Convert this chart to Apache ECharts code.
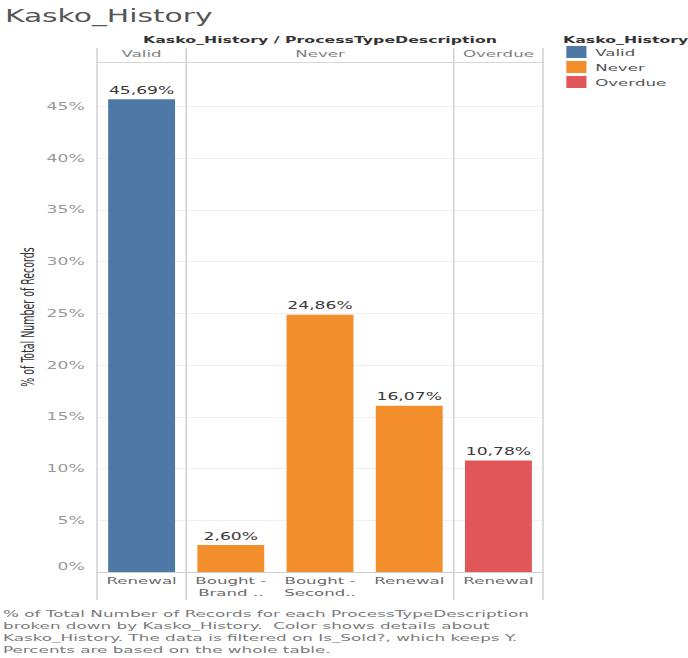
<!DOCTYPE html>
<html>
<head>
<meta charset="utf-8">
<title>Kasko_History</title>
<script src="https://cdn.jsdelivr.net/npm/echarts@6/dist/echarts.min.js"></script>
<style>
  html, body { margin: 0; padding: 0; background: #fff; overflow: hidden; }
  /* The dashboard is laid out on a narrow canvas and widened to the page width */
  #chart { width: 393px; height: 658px; transform-origin: 0 0; }
</style>
</head>
<body>
<div id="chart"></div>
<script>
// Process type per column and the Kasko_History group each column belongs to
const categories = ['Renewal', 'Bought -\nBrand ..', 'Bought -\nSecond..', 'Renewal', 'Renewal'];
const columnGroups = ['Valid', 'Never', 'Never', 'Never', 'Overdue'];
// % of total number of records per column
const percentValues = [45.69, 2.60, 24.86, 16.07, 10.78];
// Kasko_History members (legend order) and their colours
const kaskoHistory = ['Valid', 'Never', 'Overdue'];
const groupColors = ['#4e79a7', '#f28e2b', '#e15759'];
const yMax = 49.3;
const yInterval = 5;

const footerLines = [
  '% of Total Number of Records for each ProcessTypeDescription',
  'broken down by Kasko_History.  Color shows details about',
  'Kasko_History. The data is filtered on Is_Sold?, which keeps Y.',
  'Percents are based on the whole table.'
];

const FONT = 'DejaVu Sans';
const NARROW = '"Liberation Sans Narrow", "DejaVu Sans Condensed", "Liberation Sans", sans-serif';
const PAGE_W = 688;
const el = document.getElementById('chart');
const stretch = PAGE_W / el.offsetWidth;
el.style.transform = 'scaleX(' + stretch + ')';

const fmtPct = v => v.toFixed(2).replace('.', ',') + '%';

const chart = echarts.init(el, null, { renderer: 'svg' });

const series = kaskoHistory.map((name, k) => ({
  name: name,
  type: 'bar',
  barWidth: '75%',
  barGap: '-100%',
  itemStyle: { color: groupColors[k] },
  data: percentValues.map((v, i) => columnGroups[i] === name ? v : '-'),
  label: {
    show: true,
    position: 'top',
    distance: 4,
    color: '#3a3a3a',
    fontFamily: FONT,
    fontSize: 9.8,
    formatter: p => fmtPct(p.value)
  }
}));

chart.setOption({
  animation: false,
  textStyle: { fontFamily: FONT },
  title: {
    text: 'Kasko_History',
    left: 2.8,
    top: 8,
    padding: 0,
    textStyle: { fontFamily: FONT, fontSize: 17, fontWeight: 'normal', color: '#555' }
  },
  legend: {
    data: kaskoHistory,
    orient: 'vertical',
    left: 323.5,
    top: 46,
    padding: 0,
    itemWidth: 11.5,
    itemHeight: 12,
    itemGap: 3,
    icon: 'rect',
    textStyle: { fontFamily: FONT, fontSize: 9.5, color: '#555' }
  },
  grid: { left: 55.4, right: 82.8, top: 62, bottom: 86, outerBoundsMode: 'none', containLabel: false },
  xAxis: {
    type: 'category',
    data: categories,
    axisLine: { show: true, lineStyle: { color: '#cfcfcf' } },
    axisTick: { show: false },
    axisLabel: { interval: 0, color: '#6a6a6a', fontFamily: FONT, fontSize: 9.5, margin: 2, lineHeight: 12.5 },
    splitLine: { show: false }
  },
  yAxis: {
    type: 'value',
    min: 0,
    max: yMax,
    interval: yInterval,
    name: '% of Total Number of Records',
    nameLocation: 'middle',
    nameRotate: 90,
    nameGap: 34,
    nameMoveOverlap: false,
    nameTextStyle: { fontFamily: NARROW, fontSize: 10.5, color: '#333' },
    axisLine: { show: false },
    axisTick: { show: false },
    axisLabel: {
      color: '#999',
      fontFamily: FONT,
      fontSize: 9.8,
      margin: 7,
      formatter: v => {
        if (Math.abs(v / yInterval - Math.round(v / yInterval)) > 1e-6) return '';
        return v === 0 ? '{z|0%}' : v + '%';
      },
      rich: { z: { color: '#999', fontFamily: FONT, fontSize: 9.8, padding: [0, 0, 12, 0] } }
    },
    splitLine: { show: true, lineStyle: { color: '#efefef', width: 1 } }
  },
  series: series
});

// Pane frame, column headers and footer, positioned from the axis scales
const centerX = i => chart.convertToPixel({ xAxisIndex: 0 }, i);
const halfBand = (centerX(1) - centerX(0)) / 2;
const leftOf = i => centerX(i) - halfBand;
const rightOf = i => centerX(i) + halfBand;
const topY = chart.convertToPixel({ yAxisIndex: 0 }, yMax);
const baseY = chart.convertToPixel({ yAxisIndex: 0 }, 0);
const frameTop = topY - 14;
const frameBottom = baseY + 28;

const panes = kaskoHistory.map(name => {
  const idx = columnGroups.map((g, i) => g === name ? i : -1).filter(i => i >= 0);
  return { name, x0: leftOf(idx[0]), x1: rightOf(idx[idx.length - 1]) };
});

const graphics = [];
const edges = [panes[0].x0].concat(panes.map(p => p.x1));
edges.forEach(x => {
  graphics.push({
    type: 'line', silent: true,
    shape: { x1: x, y1: frameTop, x2: x, y2: frameBottom },
    style: { stroke: '#d3d3d3', lineWidth: 0.9 }
  });
});
graphics.push({
  type: 'line', silent: true,
  shape: { x1: edges[0], y1: Math.round(topY) + 0.5, x2: edges[edges.length - 1], y2: Math.round(topY) + 0.5 },
  style: { stroke: '#d6d6d6', lineWidth: 1 }
});
panes.forEach(p => {
  graphics.push({
    type: 'text', silent: true,
    style: {
      x: (p.x0 + p.x1) / 2, y: 54, text: p.name,
      align: 'center', verticalAlign: 'middle',
      fill: '#808080', font: '9.5px "' + FONT + '"'
    }
  });
});
graphics.push({
  type: 'text', silent: true,
  style: {
    x: (edges[0] + edges[edges.length - 1]) / 2, y: 40,
    text: 'Kasko_History / ProcessTypeDescription',
    align: 'center', verticalAlign: 'middle',
    fill: '#333', font: 'bold 9px "' + FONT + '"'
  }
});
graphics.push({
  type: 'text', silent: true,
  style: {
    x: 321.6, y: 40, text: 'Kasko_History',
    align: 'left', verticalAlign: 'middle',
    fill: '#333', font: 'bold 9px "' + FONT + '"'
  }
});
graphics.push({
  type: 'text', silent: true,
  style: {
    x: 1.7, y: 607, text: footerLines.join('\n'),
    align: 'left', verticalAlign: 'top', lineHeight: 12,
    fill: '#7a7a7a', font: '9.6px "' + FONT + '"'
  }
});

chart.setOption({ graphic: graphics });
</script>
</body>
</html>
